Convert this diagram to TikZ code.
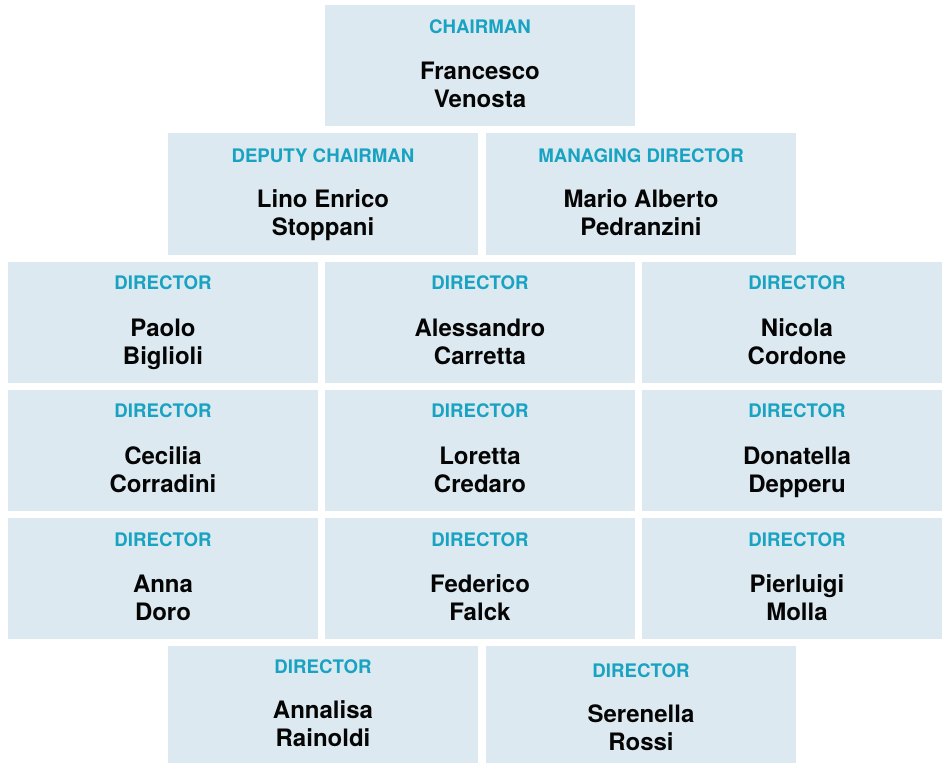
\documentclass[tikz,border=0pt]{standalone}
\usepackage{fontspec}
\setmainfont{TeX Gyre Heros}
\usetikzlibrary{calc,positioning}
\definecolor{BoardFill}{HTML}{DDE9F0}
\definecolor{BoardRole}{HTML}{17A3C1}
\definecolor{BoardInk}{HTML}{050505}
\tikzset{
  seat/.style={
    fill=BoardFill,
    draw=none,
    minimum width=232.5pt,
    minimum height=90.75pt,
    inner sep=0pt
  },
  role/.style={
    font=\fontsize{14}{16}\selectfont\bfseries,
    text=BoardRole,
    inner sep=0pt
  },
  person/.style={
    font=\fontsize{18}{21}\selectfont\bfseries,
    text=BoardInk,
    align=center,
    inner sep=0pt
  }
}

\begin{document}
\begin{tikzpicture}[x=0.75pt,y=-0.75pt]
  \useasboundingbox (0,0) rectangle (942,763);
  \clip (0,0) rectangle (942,763);

  % Top of the board.
  \node[seat] (chair) at (480,65.5) {};
  \node[role] at ($(chair.north)+(0,22)$) {CHAIRMAN};
  \node[person] at ($(chair.north)+(0,83)$) {Francesco\strut\\Venosta\strut};

  \node[seat] (deputy) at (323,194) {};
  \node[role] at ($(deputy.north)+(0,22)$) {DEPUTY CHAIRMAN};
  \node[person] at ($(deputy.north)+(0,83)$) {Lino Enrico\strut\\Stoppani\strut};

  \node[seat] (managing) at (641,194) {};
  \node[role] at ($(managing.north)+(0,22)$) {MANAGING DIRECTOR};
  \node[person] at ($(managing.north)+(0,83)$) {Mario Alberto\strut\\Pedranzini\strut};

  % Directors, three per row.
  \node[seat] (biglioli) at (163,322.5) {};
  \node[role] at ($(biglioli.north)+(0,21)$) {DIRECTOR};
  \node[person] at ($(biglioli.north)+(0,83)$) {Paolo\strut\\Biglioli\strut};

  \node[seat] (carretta) at (480,322.5) {};
  \node[role] at ($(carretta.north)+(0,21)$) {DIRECTOR};
  \node[person] at ($(carretta.north)+(0,83)$) {Alessandro\strut\\Carretta\strut};

  \node[seat] (cordone) at (797,322.5) {};
  \node[role] at ($(cordone.north)+(0,21)$) {DIRECTOR};
  \node[person] at ($(cordone.north)+(0,83)$) {Nicola\strut\\Cordone\strut};

  \node[seat] (corradini) at (163,450.5) {};
  \node[role] at ($(corradini.north)+(0,21)$) {DIRECTOR};
  \node[person] at ($(corradini.north)+(0,83)$) {Cecilia\strut\\Corradini\strut};

  \node[seat] (credaro) at (480,450.5) {};
  \node[role] at ($(credaro.north)+(0,21)$) {DIRECTOR};
  \node[person] at ($(credaro.north)+(0,83)$) {Loretta\strut\\Credaro\strut};

  \node[seat] (depperu) at (797,450.5) {};
  \node[role] at ($(depperu.north)+(0,21)$) {DIRECTOR};
  \node[person] at ($(depperu.north)+(0,83)$) {Donatella\strut\\Depperu\strut};

  \node[seat] (doro) at (163,578.5) {};
  \node[role] at ($(doro.north)+(0,22)$) {DIRECTOR};
  \node[person] at ($(doro.north)+(0,83)$) {Anna\strut\\Doro\strut};

  \node[seat] (falck) at (480,578.5) {};
  \node[role] at ($(falck.north)+(0,22)$) {DIRECTOR};
  \node[person] at ($(falck.north)+(0,83)$) {Federico\strut\\Falck\strut};

  \node[seat] (molla) at (797,578.5) {};
  \node[role] at ($(molla.north)+(0,22)$) {DIRECTOR};
  \node[person] at ($(molla.north)+(0,83)$) {Pierluigi\strut\\Molla\strut};

  % Last row of two.
  \node[seat] (rainoldi) at (323,706.5) {};
  \node[role] at ($(rainoldi.north)+(0,21)$) {DIRECTOR};
  \node[person] at ($(rainoldi.north)+(0,81)$) {Annalisa\strut\\Rainoldi\strut};

  \node[seat] (rossi) at (641,706.5) {};
  \node[role] at ($(rossi.north)+(0,25)$) {DIRECTOR};
  \node[person] at ($(rossi.north)+(0,85)$) {Serenella\strut\\Rossi\strut};
\end{tikzpicture}
\end{document}
